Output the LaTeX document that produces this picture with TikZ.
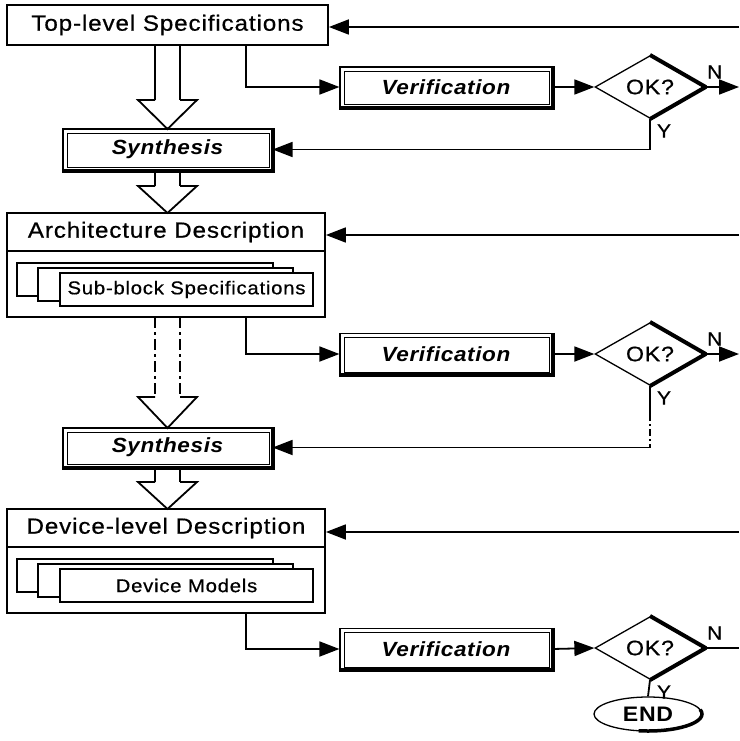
\documentclass[tikz,border=0pt]{standalone}
\usepackage{fontspec}
\setmainfont{Liberation Sans}
\newfontfamily\hfont[FakeStretch=1.1,LetterSpace=4,FakeBold=0.6]{Liberation Sans}
\newfontfamily\bfont[FakeStretch=1.1,LetterSpace=3]{Liberation Sans}
\usetikzlibrary{calc,arrows.meta,shapes.geometric}
\tikzset{
  ln/.style={line width=1.8pt},
  arr/.style={ln,-{Triangle[length=20pt,width=15pt]}},
  hbox/.style={draw,line width=1.8pt,fill=white,inner sep=0pt},
  hdr/.style={hbox,font=\hfont\fontsize{22}{24}\selectfont},
  pagebox/.style={draw,line width=1.2pt,fill=white,inner sep=0pt,font=\hfont\fontsize{18.5}{20}\selectfont},
  btn/.style={draw,line width=1.2pt,fill=white,inner sep=0pt,font=\bfont\bfseries\itshape\fontsize{20.5}{22}\selectfont},
  dia/.style={diamond,draw,line width=1.3pt,fill=white,minimum width=110pt,minimum height=54pt,inner sep=0pt,font=\hfont\fontsize{21}{22}\selectfont},
  lbl/.style={inner sep=0pt,font=\hfont\fontsize{19}{20}\selectfont},
  endbox/.style={ellipse,draw,line width=1.3pt,fill=white,minimum width=108pt,minimum height=34pt,inner sep=0pt,font=\bfont\bfseries\fontsize{21}{22}\selectfont},
}
\newcommand\btnfx[1]{%
  \draw[line width=1pt] ($(#1.north west)+(5,5)$) rectangle ($(#1.south east)+(-3,-3)$);
  \draw[line width=4pt] (#1.north east) -- (#1.south east) -- (#1.south west);
}
\newcommand\diafx[1]{%
  \draw[line width=4pt,line join=round] (#1.north) -- (#1.east) -- (#1.south);
}
\newcommand\harrow[4][solid]{%
  \draw[ln,#1] (155,#2) -- (155,#3);
  \draw[ln,#1] (180,#2) -- (180,#3);
  \draw[ln,line join=miter] (155,#3) -- (138,#3) -- (167.5,#4) -- (197,#3) -- (180,#3);
}
\begin{document}
\begin{tikzpicture}[x=1pt,y=-1pt]
\useasboundingbox (0,0) rectangle (739,741);
\fill[white] (0,0) rectangle (739,741);

% ---------- level 1 ----------
\node[hdr,minimum width=321pt,minimum height=40pt] (top) at (167.5,25) {Top-level Specifications};
\node[btn,minimum width=212pt,minimum height=40pt] (ver1) at (446,87) {Verification};
\btnfx{ver1}
\node[dia] (d1) at (650,87) {OK?};
\diafx{d1}
\node[btn,minimum width=209pt,minimum height=41pt] (syn1) at (167.5,149.5) {Synthesis};
\btnfx{syn1}

% ---------- level 2 ----------
\node[hbox,minimum width=318pt,minimum height=104pt] (arch) at (166,265) {};
\node[hdr,minimum width=318pt,minimum height=38pt] (archh) at (166,232) {Architecture Description};
\node[pagebox,minimum width=256pt,minimum height=33pt] (ap1) at (145,279.5) {};
\node[pagebox,minimum width=255pt,minimum height=33pt] (ap2) at (165.5,284.5) {};
\node[pagebox,minimum width=253pt,minimum height=33pt] (ap3) at (186.5,289.5) {Sub-block Specifications};
\node[btn,minimum width=212pt,minimum height=41pt] (ver2) at (446,354) {Verification};
\btnfx{ver2}
\node[dia] (d2) at (650,354) {OK?};
\diafx{d2}
\node[btn,minimum width=209pt,minimum height=39pt] (syn2) at (167.5,447.5) {Synthesis};
\btnfx{syn2}

% ---------- level 3 ----------
\node[hbox,minimum width=318pt,minimum height=104pt] (dev) at (166,561) {};
\node[hdr,minimum width=318pt,minimum height=38pt] (devh) at (166,528) {Device-level Description};
\node[pagebox,minimum width=256pt,minimum height=33pt] (dp1) at (145,575.5) {};
\node[pagebox,minimum width=255pt,minimum height=33pt] (dp2) at (165.5,580.5) {};
\node[pagebox,minimum width=253pt,minimum height=33pt] (dp3) at (186.5,585.5) {Device Models};
\node[btn,minimum width=212pt,minimum height=41pt] (ver3) at (446,649) {Verification};
\btnfx{ver3}
\node[dia] (d3) at (650,648) {OK?};
\diafx{d3}
\node[endbox] (endn) at (648,714) {END};
\draw[line width=3.5pt] ($(endn.center)+({54*cos(-15)},{17*sin(-15)})$) arc[start angle=-15,end angle=100,x radius=54,y radius=17];

% ---------- hollow arrows ----------
\harrow{45}{100}{129}
\harrow{170}{186}{213}
\harrow[dash pattern=on 11pt off 4pt on 3pt off 4pt]{317}{397}{428}
\harrow{467}{482}{509}

% ---------- feedback lines ----------
\coordinate (fb1) at (739,27);
\coordinate (fb2) at (739,235);
\coordinate (fb3) at (739,532);
\draw[arr] (fb1) -- (fb1 -| top.east);
\draw[arr] (fb2) -- (fb2 -| archh.east);
\draw[arr] (fb3) -- (fb3 -| devh.east);

% ---------- to verification ----------
\coordinate (t1) at ($(top.south west)+(240,0)$);
\coordinate (t2) at ($(arch.south west)+(240,0)$);
\coordinate (t3) at ($(dev.south west)+(240,0)$);
\draw[arr] (t1) |- (ver1.west);
\draw[arr] (t2) |- (ver2.west);
\draw[arr] (t3) |- (ver3.west);
\draw[arr] (ver1.east) -- (d1.west);
\draw[arr] (ver2.east) -- (d2.west);
\draw[arr] (ver3.east) -- (d3.west);

% ---------- N branches ----------
\coordinate (n1) at (739,87);
\coordinate (n2) at (739,354);
\coordinate (n3) at (739,648);
\draw[arr] (d1.east) -- (n1);
\draw[arr] (d2.east) -- (n2);
\draw[ln] (d3.east) -- (n3);
\node[lbl] (nl1) at ($(d1.east)+(9,-15)$) {N};
\node[lbl] (nl2) at ($(d2.east)+(9,-15)$) {N};
\node[lbl] (nl3) at ($(d3.east)+(9,-15)$) {N};

% ---------- Y branches ----------
\draw[arr] (d1.south) |- (syn1.east);
\coordinate (y2a) at ($(d2.south)+(0,28)$);
\coordinate (y2b) at ($(d2.south)+(0,58)$);
\draw[ln] (d2.south) -- (y2a);
\draw[ln,dash pattern=on 7pt off 3pt on 2pt off 3pt] (y2a) -- (y2b);
\draw[arr] (y2b) |- (syn2.east);
\draw[ln] (d3.south) -- (endn.north);
\node[lbl] (yl1) at ($(d1.south)+(14,12)$) {Y};
\node[lbl] (yl2) at ($(d2.south)+(14,12)$) {Y};
\node[lbl] (yl3) at ($(d3.south)+(14,12)$) {Y};
\end{tikzpicture}
\end{document}
